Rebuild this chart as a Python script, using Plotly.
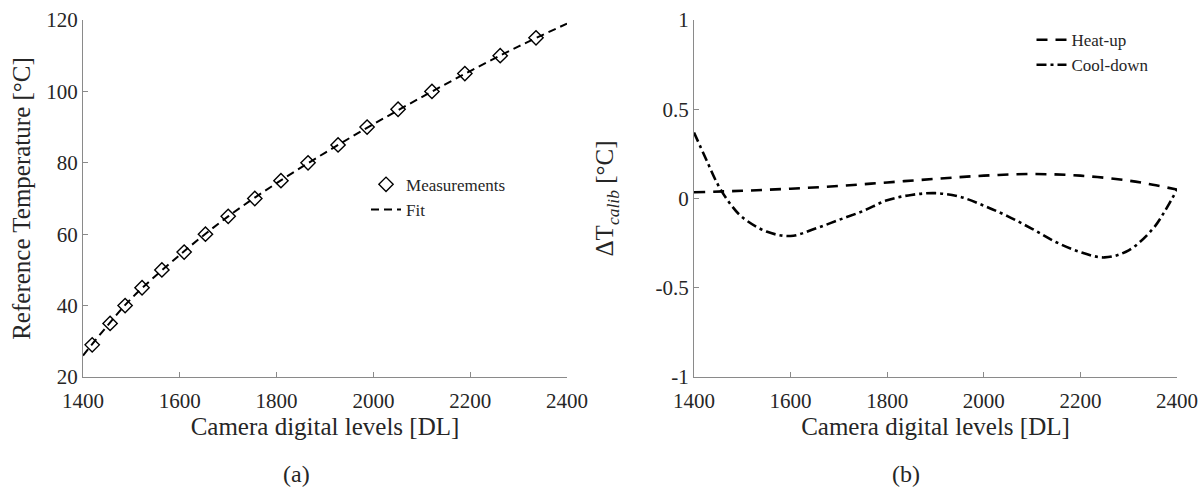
import plotly.graph_objects as go

# ---- data (a) ----
meas_dl = [1419, 1456, 1487, 1522, 1563, 1609, 1653, 1700, 1755, 1809, 1865, 1927,
           1987, 2051, 2121, 2189, 2262, 2336]
meas_t = [29, 35, 40, 45, 50, 55, 60, 65, 70, 75, 80, 85, 90, 95, 100, 105, 110, 115]
fit_dl = [1400, 1450, 1500, 1600, 1700, 1800, 1900, 2000, 2100, 2200, 2300, 2400]
fit_t = [26.0, 34.3, 42.0, 54.2, 65.0, 74.3, 82.8, 90.8, 98.4, 105.7, 112.6, 119.0]

# ---- data (b) ----
heat_dl = [1400, 1500, 1600, 1700, 1800, 1900, 2000, 2100, 2200, 2300, 2350, 2400]
heat_dt = [0.035, 0.043, 0.055, 0.07, 0.09, 0.11, 0.128, 0.137, 0.128, 0.1, 0.077, 0.05]
cool_dl = [1400, 1425, 1450, 1475, 1500, 1550, 1600, 1650, 1700, 1750, 1800, 1850,
           1900, 1950, 2000, 2050, 2100, 2150, 2200, 2250, 2300, 2350, 2375, 2400]
cool_dt = [0.37, 0.22, 0.075, -0.03, -0.105, -0.185, -0.21, -0.17, -0.12, -0.07, -0.01,
           0.02, 0.03, 0.01, -0.04, -0.10, -0.17, -0.245, -0.30, -0.33, -0.29, -0.17,
           -0.07, 0.05]

x_ticks = [1400, 1600, 1800, 2000, 2200, 2400]
y1_ticks = [20, 40, 60, 80, 100, 120]
y2_ticks = [-1, -0.5, 0, 0.5, 1]
y2_labels = ["-1", "-0.5", "0", "0.5", "1"]

FONT = "Liberation Serif"
TXT = "#262626"
AX = "#8a8a8a"

fig = go.Figure()
fig.add_trace(go.Scatter(x=meas_dl, y=meas_t, mode="markers", name="Measurements",
                         marker=dict(symbol="diamond-open", size=11, color="black",
                                     line=dict(width=1.4, color="black")),
                         xaxis="x", yaxis="y", legend="legend"))
fig.add_trace(go.Scatter(x=fit_dl, y=fit_t, mode="lines", name="Fit",
                         line=dict(color="black", width=2, dash="8px,5px", shape="spline"),
                         xaxis="x", yaxis="y", legend="legend"))
fig.add_trace(go.Scatter(x=heat_dl, y=heat_dt, mode="lines", name="Heat-up",
                         line=dict(color="black", width=2.6, dash="11px,8px", shape="spline"),
                         xaxis="x2", yaxis="y2", legend="legend2"))
fig.add_trace(go.Scatter(x=cool_dl, y=cool_dt, mode="lines", name="Cool-down",
                         line=dict(color="black", width=2.6, dash="10px,4px,3px,4px",
                                   shape="spline"),
                         xaxis="x2", yaxis="y2", legend="legend2"))

axis_common = dict(showline=True, linecolor=AX, linewidth=1, ticks="inside", ticklen=5,
                   tickcolor=AX, showgrid=False, zeroline=False, mirror=False,
                   tickfont=dict(family=FONT, size=21, color=TXT), automargin=False)
TFONT = dict(family=FONT, size=25, color=TXT)

fig.update_layout(
    width=1204, height=488,
    margin=dict(l=83, r=27, t=20, b=111),
    paper_bgcolor="white", plot_bgcolor="white",
    showlegend=True,
    font=dict(family=FONT, color=TXT),
    xaxis=dict(domain=[0, 0.4424], range=[1400, 2400], tickvals=x_ticks,
               ticklabelstandoff=5,
               title=dict(text="Camera digital levels [DL]", font=TFONT, standoff=5),
               anchor="y", **axis_common),
    yaxis=dict(domain=[0, 1], range=[20, 120], tickvals=y1_ticks,
               title=dict(text="Reference Temperature [°C]", font=TFONT, standoff=8),
               anchor="x", **axis_common),
    xaxis2=dict(domain=[0.5585, 1], range=[1400, 2400], tickvals=x_ticks,
                ticklabelstandoff=5,
                title=dict(text="Camera digital levels [DL]", font=TFONT, standoff=5),
                anchor="y2", **axis_common),
    yaxis2=dict(domain=[0, 1], range=[-1, 1], tickvals=y2_ticks, ticktext=y2_labels,
                title=dict(text="ΔT<sub><i>calib</i></sub> [°C]", font=TFONT, standoff=34),
                anchor="x2", **axis_common),
    legend=dict(x=0.2587, y=0.589, xanchor="left", yanchor="top",
                bgcolor="rgba(0,0,0,0)", font=dict(family=FONT, size=17, color=TXT),
                tracegroupgap=0, itemwidth=30),
    legend2=dict(x=0.867, y=0.994, xanchor="left", yanchor="top",
                 bgcolor="rgba(0,0,0,0)", font=dict(family=FONT, size=17, color=TXT),
                 tracegroupgap=0, itemwidth=30),
    annotations=[
        dict(text="(a)", x=0.1956, y=-0.272, xref="paper", yref="paper", showarrow=False,
             xanchor="center", yanchor="middle", font=dict(family=FONT, size=24, color=TXT)),
        dict(text="(b)", x=0.7523, y=-0.272, xref="paper", yref="paper", showarrow=False,
             xanchor="center", yanchor="middle", font=dict(family=FONT, size=24, color=TXT)),
    ],
)

fig.write_html("out.html")
